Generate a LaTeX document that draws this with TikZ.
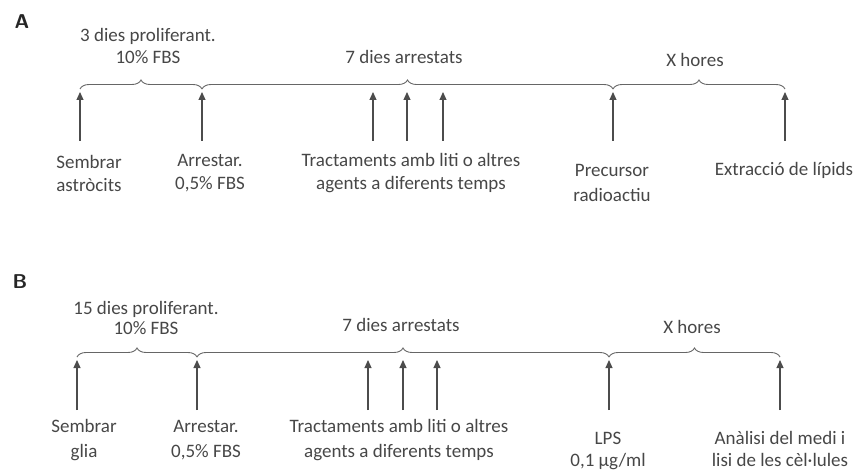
\documentclass[tikz,border=0pt]{standalone}
\usepackage{fontspec}
\setmainfont{Carlito}
\usetikzlibrary{decorations.pathreplacing,arrows.meta}
\begin{document}
\begin{tikzpicture}[x=1pt,y=-1pt,
  tline/.style={draw=black!70,line width=0.8pt,double=white,double distance=1.2pt},
  evarrow/.style={draw=black!70,line width=1.1pt,-{Triangle[length=8pt,width=7pt]}},
  tbrace/.style={draw=black!60,line width=0.9pt,decorate,decoration={brace,amplitude=9pt,aspect=0.5}},
  lbl/.style={font=\fontsize{19}{23}\selectfont,text=black!72,align=center,inner sep=0pt},
  plbl/.style={font=\sffamily\bfseries\fontsize{20}{22}\selectfont,text=black!85,inner sep=0pt}]
\useasboundingbox (0,0) rectangle (854,473);
% ---------- Panel A ----------
\node[plbl] (pA) at (22,22) {A};
\coordinate (a1) at (80,90);
\coordinate (a2) at (202,90);
\coordinate (a3) at (373,90);
\coordinate (a4) at (407,90);
\coordinate (a5) at (443,90);
\coordinate (a6) at (613,90);
\coordinate (a7) at (785,90);
\draw[tline] (a1) -- (a7);
\foreach \i in {1,...,7} {
  \coordinate (ab\i) at ([yshift=-51pt]a\i);
  \draw[evarrow] (ab\i) -- ([yshift=-2pt]a\i);
}
\draw[tbrace] ([yshift=1pt]a1) -- ([yshift=1pt]a2);
\draw[tbrace] ([yshift=1pt]a2) -- ([yshift=1pt]a6);
\draw[tbrace] ([yshift=1pt]a6) -- ([yshift=1pt]a7);
\node[lbl,font=\fontsize{19}{22}\selectfont] (tA1) at (148,46) {3 dies proliferant.\\10\% FBS};
\node[lbl] (tA2) at (404,57) {7 dies arrestats};
\node[lbl] (tA3) at (695,60) {X hores};
\node[lbl] (lA1) at (89,173.5) {Sembrar\\astròcits};
\node[lbl] (lA2) at (210,173.5) {Arrestar.\\0,5\% FBS};
\node[lbl] (lA3) at (411,173.5) {Tractaments amb liti o altres\\agents a diferents temps};
\node[lbl,font=\fontsize{19}{25}\selectfont] (lA4) at (612,182.5) {Precursor\\radioactiu};
\node[lbl] (lA5) at (784,170) {Extracció de lípids};
% ---------- Panel B ----------
\node[plbl] (pB) at (20,282) {B};
\coordinate (b1) at (77,358);
\coordinate (b2) at (197,358);
\coordinate (b3) at (368,358);
\coordinate (b4) at (403,358);
\coordinate (b5) at (437,358);
\coordinate (b6) at (609,358);
\coordinate (b7) at (780,358);
\draw[tline] (b1) -- (b7);
\foreach \i in {1,...,7} {
  \coordinate (bb\i) at ([yshift=-52pt]b\i);
  \draw[evarrow] (bb\i) -- ([yshift=-2pt]b\i);
}
\draw[tbrace] ([yshift=1pt]b1) -- ([yshift=1pt]b2);
\draw[tbrace] ([yshift=1pt]b2) -- ([yshift=1pt]b6);
\draw[tbrace] ([yshift=1pt]b6) -- ([yshift=1pt]b7);
\node[lbl,font=\fontsize{19}{20}\selectfont] (tB1) at (146,318) {15 dies proliferant.\\10\% FBS};
\node[lbl] (tB2) at (401,325) {7 dies arrestats};
\node[lbl] (tB3) at (692,327) {X hores};
\node[lbl,font=\fontsize{19}{25}\selectfont] (lB1) at (84,440.5) {Sembrar\\glia};
\node[lbl,font=\fontsize{19}{25}\selectfont] (lB2) at (206,440.5) {Arrestar.\\0,5\% FBS};
\node[lbl,font=\fontsize{19}{25}\selectfont] (lB3) at (399,440.5) {Tractaments amb liti o altres\\agents a diferents temps};
\node[lbl,font=\fontsize{19}{22}\selectfont] (lB4) at (608,451) {LPS\\0,1 μg/ml};
\node[lbl,font=\fontsize{19}{22}\selectfont] (lB5) at (780,449) {Anàlisi del medi i\\lisi de les cèl·lules};
\end{tikzpicture}
\end{document}
